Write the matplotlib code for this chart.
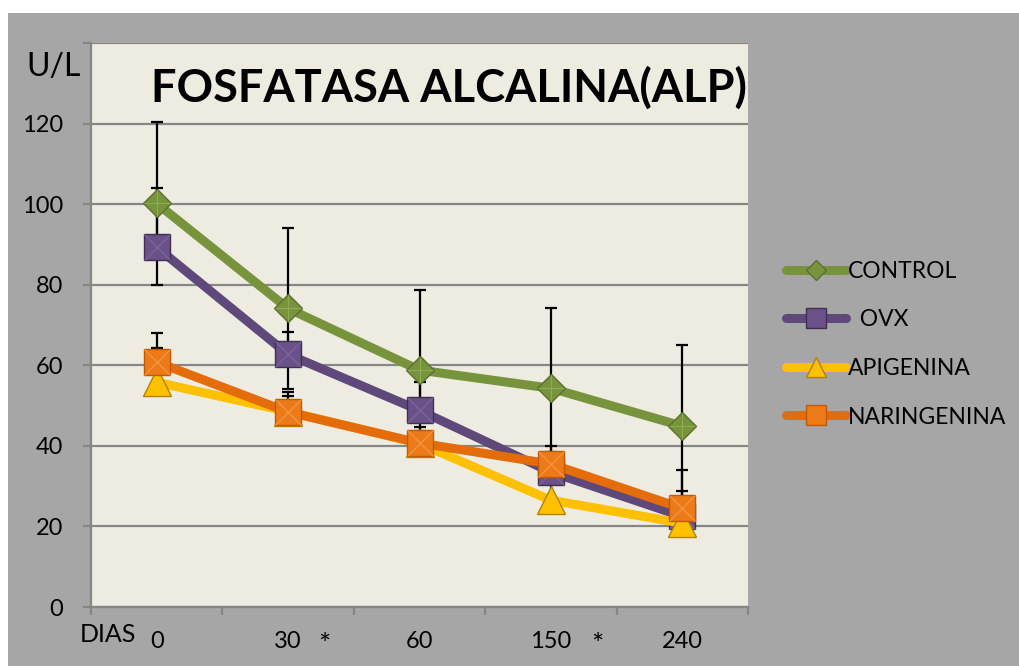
import matplotlib
matplotlib.use("Agg")
import matplotlib.pyplot as plt
from matplotlib.patches import Rectangle

# data
dias = ["0", "30", "60", "150", "240"]
sig = ["", "*", "", "*", ""]
y_ticks = [0, 20, 40, 60, 80, 100, 120, 140]
y_labels = ["0", "20", "40", "60", "80", "100", "120", ""]

control = [100.2, 74.1, 58.8, 54.3, 44.9]
control_err = [20.3, 20.1, 19.8, 19.8, 20.1]
ovx = [89.3, 62.7, 48.8, 33.5, 22.5]
ovx_err = [14.7, 5.5, 7.0, 4.9, 11.5]
apigenina = [55.8, 48.5, 40.6, 26.5, 20.8]
apigenina_err = [8.4, 4.0, 4.0, 4.0, 4.0]
naringenina = [60.8, 48.4, 40.7, 35.5, 24.5]
naringenina_err = [7.2, 4.9, 3.0, 4.4, 4.3]

FONT = "Lato"
plt.rcParams['font.family'] = [FONT, 'DejaVu Sans']

W, H = 1020, 666
fig = plt.figure(figsize=(W / 100, H / 100), dpi=100)
fig.patch.set_facecolor("white")
fig.add_artist(Rectangle((8 / W, 0), 1 - 8 / W, (H - 13) / H, transform=fig.transFigure,
                         facecolor="#a6a6a6", edgecolor="none", zorder=-5))

ax = fig.add_axes([91 / W, 1 - 607 / H, (748 - 91) / W, (607 - 43) / H])
ax.set_facecolor("#eeece1")

x = list(range(len(dias)))
series = [
    # label, values, err, symmetric?, line colour, marker, size, face, edge, overlay, overlay colour
    ("CONTROL", control, control_err, True, "#77933c", "D", 14, "#77933c", "#5a7030", "+", "#8fac55"),
    ("  OVX", ovx, ovx_err, False, "#5f497a", "s", 19, "#6a5188", "#3f3052", "x", "#7e67a0"),
    ("APIGENINA", apigenina, apigenina_err, False, "#ffc000", "^", 20, "#ffc000", "#b08400", None, None),
    ("NARINGENINA", naringenina, naringenina_err, False, "#e46c0a", "s", 19, "#ec7a18", "#c05a08", "x", "#f59a4a"),
]

for i, (lab, vals, err, sym, col, mk, ms, fc, ec, ov, ovc) in enumerate(series):
    lower = err if sym else [0] * len(err)
    ax.errorbar(x, vals, yerr=[lower, err], fmt="none", ecolor="black",
                elinewidth=1.6, capsize=4.5, capthick=1.6, zorder=2)
    ax.plot(x, vals, color=col, lw=6.5, marker=mk, ms=ms, mfc=fc, mec=ec, mew=1.0,
            solid_capstyle="round", zorder=3 + i, label=lab)
    if ov:
        ax.plot(x, vals, ls="none", marker=ov, ms=ms * (0.95 if ov == "x" else 1.38),
                mew=0.8, color=ovc, zorder=3 + i + 0.5)

ax.set_xlim(-0.5, len(dias) - 0.5)
ax.set_ylim(0, 140)
ax.set_yticks(y_ticks)
ax.set_yticklabels(y_labels)
ax.set_xticks(x)
ax.set_xticklabels(dias)
ax.set_xticks([i - 0.5 for i in range(len(dias) + 1)], minor=True)

ax.yaxis.grid(True, color="#868686", lw=1.6)
ax.set_axisbelow(True)
for s in ["top", "right"]:
    ax.spines[s].set_visible(False)
for s in ["left", "bottom"]:
    ax.spines[s].set_color("#868686")
    ax.spines[s].set_linewidth(1.6)

ax.tick_params(axis="y", length=6, width=1.6, color="#868686", pad=14, labelsize=17)
ax.tick_params(axis="x", which="major", length=0, pad=17, labelsize=17)
ax.tick_params(axis="x", which="minor", length=6, width=1.6, color="#868686")

for i, s in enumerate(sig):
    if s:
        ax.annotate(s, xy=(i, 0), xycoords=("data", "axes fraction"),
                    xytext=(11 + 7.5 * len(dias[i]), -28), textcoords="offset points",
                    ha="center", va="center", fontsize=21)

fig.text(80 / W, 1 - 635 / H, "DIAS", ha="left", va="center", fontsize=18)
fig.text(54 / W, 1 - 67 / H, "U/L", ha="center", va="center", fontsize=23)
fig.text(449 / W, 1 - 88 / H, "FOSFATASA ALCALINA(ALP)", ha="center", va="center",
         fontsize=32.5, fontweight="bold")

leg = ax.legend(loc="upper left", bbox_to_anchor=(786 / W, 1 - 261 / H),
                bbox_transform=fig.transFigure, frameon=False, fontsize=16.5,
                handlelength=2.6, handletextpad=0.1, labelspacing=1.2,
                markerscale=0.75, borderpad=0, borderaxespad=0)

fig.savefig("out.png", dpi=100, facecolor=fig.get_facecolor())
